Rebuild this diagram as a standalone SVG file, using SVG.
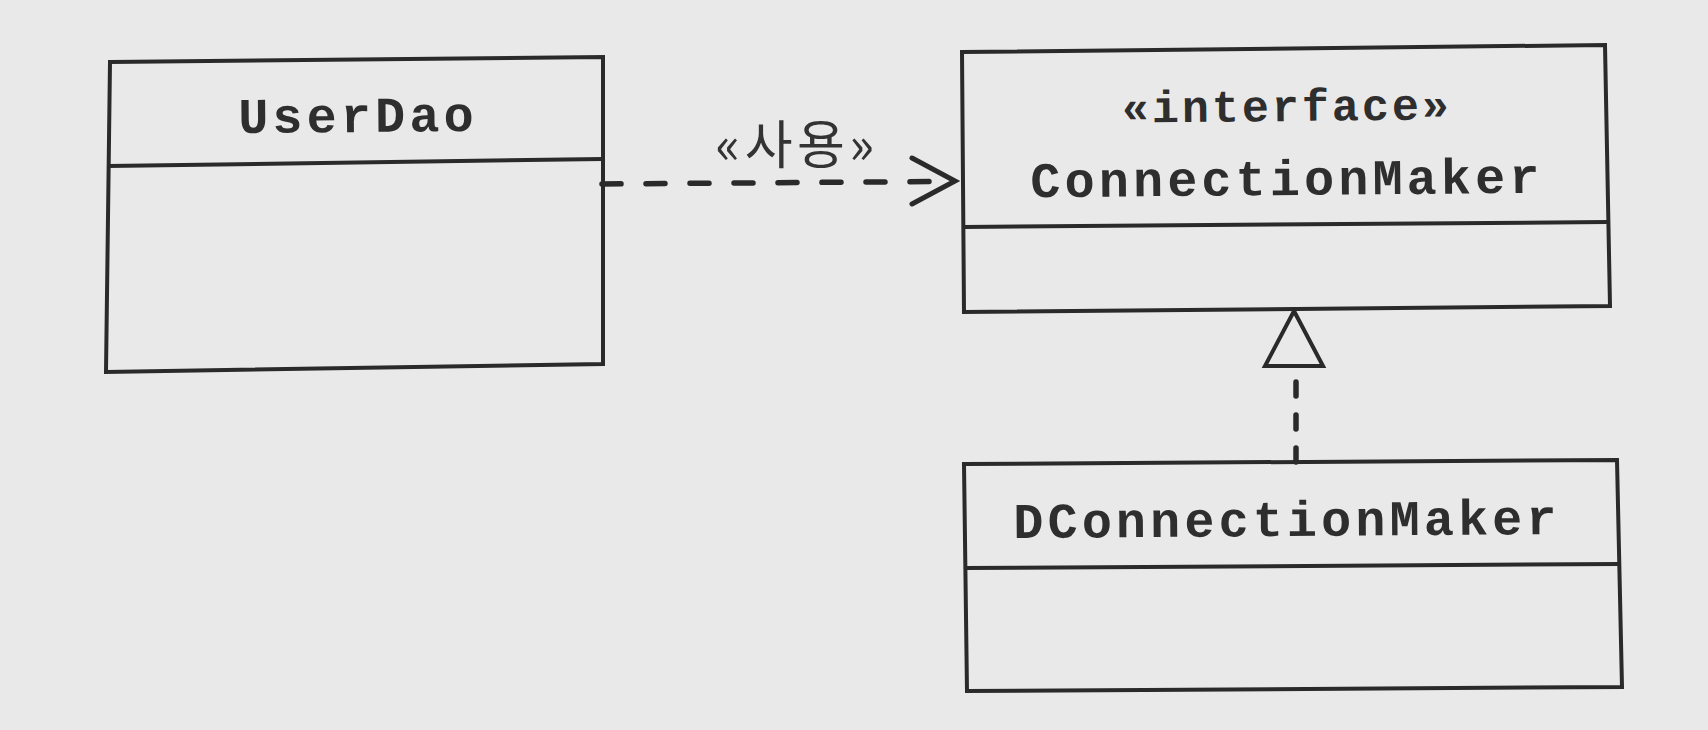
<svg xmlns="http://www.w3.org/2000/svg" width="1708" height="730" viewBox="0 0 1708 730">
  <style>
    .box { fill: none; stroke: #2a2a2a; stroke-width: 4; stroke-linejoin: miter; }
    .name { font-family: "Liberation Mono", "DejaVu Sans Mono", monospace; font-size: 50px; font-weight: bold; fill: #2e2e2e; letter-spacing: 4.2px; text-anchor: middle; }
    .stereo { font-family: "Liberation Mono", "DejaVu Sans Mono", monospace; font-size: 45px; font-weight: bold; fill: #2e2e2e; letter-spacing: 3px; text-anchor: middle; }
    .label { font-family: "Noto Sans CJK KR", "Noto Sans", sans-serif; font-size: 52px; fill: #333333; letter-spacing: 4.5px; text-anchor: middle; }
    .dash { fill: none; stroke: #2a2a2a; stroke-width: 5.5; stroke-linecap: round; }
    .head { fill: none; stroke: #2a2a2a; stroke-width: 5; stroke-linecap: round; stroke-linejoin: miter; }
    .tri { fill: #e9e9e9; stroke: #2a2a2a; stroke-width: 4; stroke-linejoin: miter; }
  </style>
  <rect x="0" y="0" width="1708" height="730" fill="#e9e9e9"/>

  <g id="UserDao">
    <path class="box" d="M110,62 L603,57 L603,364 L106,372 Z"/>
    <path class="box" d="M108,166 L603,159"/>
    <text class="name" x="358" y="132" transform="rotate(-0.5 358 118)">UserDao</text>
  </g>

  <g id="ConnectionMaker">
    <path class="box" d="M962,52 L1605,45 L1610,306 L964,312 Z"/>
    <path class="box" d="M963,227 L1607,222"/>
    <text class="stereo" x="1287" y="121" transform="rotate(-0.5 1287 108)">«interface»</text>
    <text class="name" x="1287" y="195" transform="rotate(-0.5 1287 180)">ConnectionMaker</text>
  </g>

  <g id="DConnectionMaker">
    <path class="box" d="M964,464 L1617,460 L1622,687 L967,691 Z"/>
    <path class="box" d="M965,568 L1620,564"/>
    <text class="name" x="1287" y="536" transform="rotate(-0.4 1287 520)">DConnectionMaker</text>
  </g>

  <g id="connectors">
    <g id="use-dependency">
      <path class="dash" d="M602,184 L940,181.5" stroke-dasharray="19 25"/>
      <path class="head" d="M912,158 L955,181 L912,204"/>
      <text class="label" x="797" y="164">«사용»</text>
    </g>
    <g id="realization">
      <path class="dash" d="M1296,382 L1296,463" stroke-dasharray="14 19"/>
      <path class="tri" d="M1294,311 L1323,366 L1265,366 Z"/>
    </g>
  </g>
</svg>
